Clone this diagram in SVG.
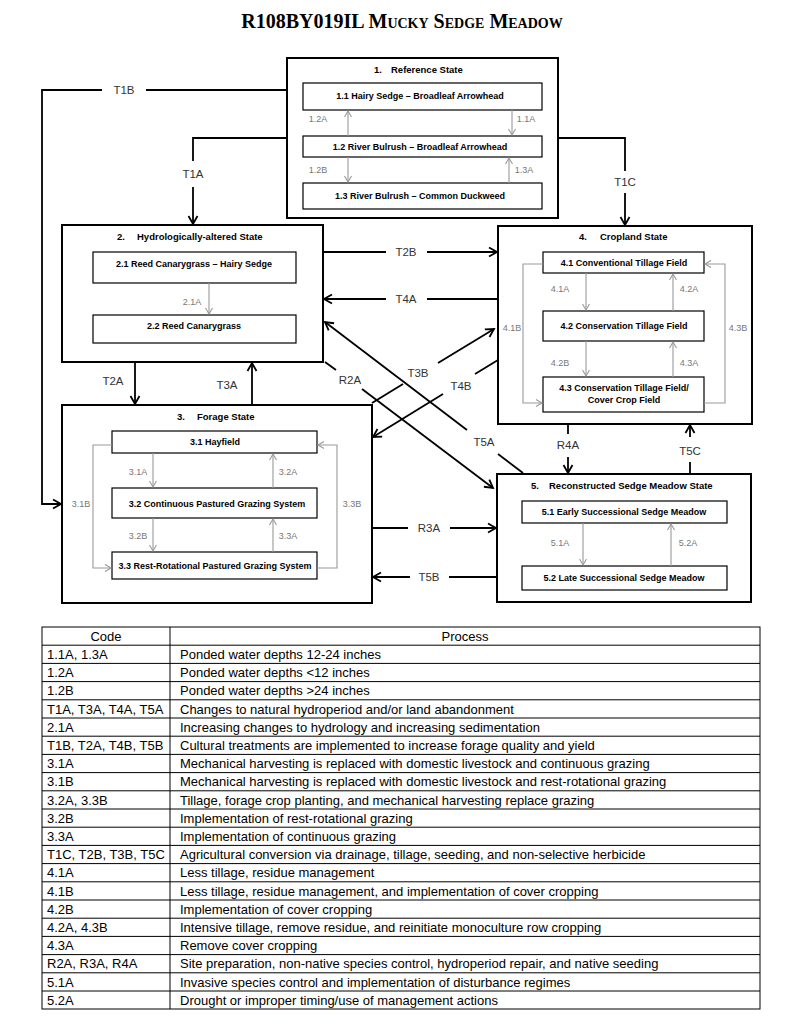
<svg xmlns="http://www.w3.org/2000/svg" width="800" height="1028" viewBox="0 0 800 1028">
<style>
.title{font-family:"Liberation Serif",serif;font-weight:bold;font-size:20px;font-variant:small-caps;fill:#000}
.st{fill:#fff;stroke:#000;stroke-width:2}
.ph{fill:#fff;stroke:#000;stroke-width:1.2}
.sl{font-family:"Liberation Sans",Arial,sans-serif;font-weight:bold;font-size:9.5px;fill:#000}
.pl{font-family:"Liberation Sans",Arial,sans-serif;font-weight:bold;font-size:9px;fill:#000;text-anchor:middle}
.tr{fill:none;stroke:#000;stroke-width:1.8}
.ta{fill:none;stroke:#000;stroke-width:1.8;marker-end:url(#ah)}
.gr{fill:none;stroke:#999;stroke-width:1.1;marker-end:url(#ahg)}
.tl{font-family:"Liberation Sans",Arial,sans-serif;font-size:11.5px;fill:#333;text-anchor:middle}
.gl{font-family:"Liberation Sans",Arial,sans-serif;font-size:9px;fill:#777;text-anchor:middle}
.tb{fill:none;stroke:#000;stroke-width:1}
.tt{font-family:"Liberation Sans",Arial,sans-serif;font-size:13px;fill:#000}
.th{font-family:"Liberation Sans",Arial,sans-serif;font-size:13px;fill:#000;text-anchor:middle}
</style>
<defs>
<marker id="ah" markerUnits="userSpaceOnUse" markerWidth="12" markerHeight="12" refX="9" refY="5" orient="auto" viewBox="0 0 12 10">
<path d="M1,0.5 L9,5 L1,9.5" fill="none" stroke="#000" stroke-width="1.8"/>
</marker>
<marker id="ahg" markerUnits="userSpaceOnUse" markerWidth="10" markerHeight="10" refX="7" refY="4" orient="auto" viewBox="0 0 10 8">
<path d="M1,0.5 L7,4 L1,7.5" fill="none" stroke="#999" stroke-width="1.1"/>
</marker>
</defs>
<rect width="800" height="1028" fill="#fff"/>
<text class="title" x="402" y="28" text-anchor="middle">R108BY019IL Mucky Sedge Meadow</text>

<g id="state1">
<rect class="st" x="287" y="58" width="271" height="160"/>
<text class="sl" y="73"><tspan x="374">1.</tspan><tspan x="391">Reference State</tspan></text>
</g>
<g id="p11"><rect class="ph" x="303" y="83" width="239" height="27"/><text class="pl" x="420" y="99">1.1  Hairy Sedge – Broadleaf Arrowhead</text></g>
<g id="p12"><rect class="ph" x="303" y="136" width="239" height="21"/><text class="pl" x="420" y="150">1.2 River Bulrush – Broadleaf Arrowhead</text></g>
<g id="p13"><rect class="ph" x="303" y="183" width="239" height="26"/><text class="pl" x="420" y="199">1.3  River Bulrush – Common Duckweed</text></g>

<g id="state2">
<rect class="st" x="62" y="225" width="261" height="137"/>
<text class="sl" y="240"><tspan x="117">2.</tspan><tspan x="137">Hydrologically-altered State</tspan></text>
</g>
<g id="p21"><rect class="ph" x="93" y="252" width="203" height="31"/><text class="pl" x="194" y="267">2.1  Reed Canarygrass – Hairy Sedge</text></g>
<g id="p22"><rect class="ph" x="93" y="315" width="203" height="28"/><text class="pl" x="194" y="329">2.2  Reed Canarygrass</text></g>

<g id="state3">
<rect class="st" x="62" y="405" width="310" height="198"/>
<text class="sl" y="420"><tspan x="177">3.</tspan><tspan x="197">Forage State</tspan></text>
</g>
<g id="p31"><rect class="ph" x="112" y="431" width="205" height="22"/><text class="pl" x="215" y="445">3.1 Hayfield</text></g>
<g id="p32"><rect class="ph" x="112" y="488" width="205" height="30"/><text class="pl" x="217" y="507">3.2 Continuous Pastured Grazing System</text></g>
<g id="p33"><rect class="ph" x="112" y="552" width="205" height="27"/><text class="pl" x="215" y="569">3.3 Rest-Rotational Pastured Grazing System</text></g>

<g id="state4">
<rect class="st" x="498" y="226" width="254" height="198"/>
<text class="sl" y="240"><tspan x="579">4.</tspan><tspan x="600">Cropland State</tspan></text>
</g>
<g id="p41"><rect class="ph" x="543" y="252" width="161" height="21"/><text class="pl" x="624" y="266">4.1 Conventional Tillage Field</text></g>
<g id="p42"><rect class="ph" x="543" y="311" width="161" height="30"/><text class="pl" x="624" y="329">4.2 Conservation Tillage Field</text></g>
<g id="p43"><rect class="ph" x="543" y="377" width="161" height="35"/><text class="pl" x="624" y="391">4.3 Conservation Tillage Field/</text><text class="pl" x="624" y="403">Cover Crop Field</text></g>

<g id="state5">
<rect class="st" x="497" y="474" width="254" height="128"/>
<text class="sl" y="489"><tspan x="531">5.</tspan><tspan x="549">Reconstructed Sedge Meadow State</tspan></text>
</g>
<g id="p51"><rect class="ph" x="522" y="501" width="205" height="22"/><text class="pl" x="624" y="515">5.1 Early Successional Sedge Meadow</text></g>
<g id="p52"><rect class="ph" x="522" y="566" width="205" height="24"/><text class="pl" x="624" y="581">5.2 Late Successional Sedge Meadow</text></g>

<g id="connectors">
<path class="tr" d="M287,90 H146"/>
<path class="ta" d="M102,90 H42 V504 H61"/>
<text class="tl" x="124" y="94">T1B</text>
<path class="tr" d="M287,138 H193 V161"/>
<path class="ta" d="M193,187 V224"/>
<text class="tl" x="193" y="178">T1A</text>
<path class="tr" d="M558,138 H625 V171"/>
<path class="ta" d="M625,193 V225"/>
<text class="tl" x="625" y="186">T1C</text>
<path class="tr" d="M323,252 H386"/>
<path class="ta" d="M427,252 H497"/>
<text class="tl" x="406" y="256">T2B</text>
<path class="tr" d="M498,299 H427"/>
<path class="ta" d="M386,299 H324"/>
<text class="tl" x="406" y="303">T4A</text>
<path class="ta" d="M135,362 V404"/>
<text class="tl" x="113" y="385">T2A</text>
<path class="ta" d="M252,405 V363"/>
<text class="tl" x="227" y="389">T3A</text>
<path class="tr" d="M325,362 L336,370"/>
<path class="ta" d="M362,389 L493,488"/>
<text class="tl" x="350" y="384">R2A</text>
<path class="tr" d="M523,473 L498,454"/>
<path class="ta" d="M467,430 L325,322"/>
<text class="tl" x="484" y="446">T5A</text>
<path class="tr" d="M372,403 L403,384"/>
<path class="ta" d="M438,363 L494,329"/>
<text class="tl" x="418" y="377">T3B</text>
<path class="tr" d="M498,360 L475,374"/>
<path class="ta" d="M443,394 L373,437"/>
<text class="tl" x="461" y="390">T4B</text>
<path class="tr" d="M372,528 H408"/>
<path class="ta" d="M450,528 H496"/>
<text class="tl" x="429" y="532">R3A</text>
<path class="tr" d="M497,577 H449"/>
<path class="ta" d="M410,577 H373"/>
<text class="tl" x="429" y="581">T5B</text>
<path class="tr" d="M568,424 V434"/>
<path class="ta" d="M568,457 V473"/>
<text class="tl" x="568" y="449">R4A</text>
<path class="tr" d="M690,474 V462"/>
<path class="ta" d="M690,437 V425"/>
<text class="tl" x="690" y="455">T5C</text>

<path class="gr" d="M348,136 V111"/><text class="gl" x="318" y="122">1.2A</text>
<path class="gr" d="M512,110 V135"/><text class="gl" x="526" y="122">1.1A</text>
<path class="gr" d="M348,157 V182"/><text class="gl" x="318" y="173">1.2B</text>
<path class="gr" d="M509,183 V158"/><text class="gl" x="524" y="173">1.3A</text>
<path class="gr" d="M209,283 V314"/><text class="gl" x="192" y="305">2.1A</text>
<path class="gr" d="M153,453 V487"/><text class="gl" x="138" y="475">3.1A</text>
<path class="gr" d="M273,488 V454"/><text class="gl" x="288" y="475">3.2A</text>
<path class="gr" d="M153,518 V551"/><text class="gl" x="138" y="539">3.2B</text>
<path class="gr" d="M273,552 V519"/><text class="gl" x="288" y="539">3.3A</text>
<path class="gr" d="M112,445 H93 V568 H111"/><text class="gl" x="81" y="507">3.1B</text>
<path class="gr" d="M317,568 H337 V445 H318"/><text class="gl" x="352" y="507">3.3B</text>
<path class="gr" d="M586,273 V310"/><text class="gl" x="560" y="292">4.1A</text>
<path class="gr" d="M673,311 V274"/><text class="gl" x="689" y="292">4.2A</text>
<path class="gr" d="M586,341 V376"/><text class="gl" x="560" y="366">4.2B</text>
<path class="gr" d="M673,377 V342"/><text class="gl" x="689" y="366">4.3A</text>
<path class="gr" d="M543,264 H523 V403 H542"/><text class="gl" x="512" y="331">4.1B</text>
<path class="gr" d="M704,403 H725 V264 H705"/><text class="gl" x="738" y="331">4.3B</text>
<path class="gr" d="M583,523 V565"/><text class="gl" x="560" y="546">5.1A</text>
<path class="gr" d="M671,566 V524"/><text class="gl" x="688" y="546">5.2A</text>
</g>

<g id="table">
<rect class="tb" x="42" y="627" width="718" height="382"/>
<path class="tb" d="M170,627 V1009 M42,645.2 H760 M42,663.4 H760 M42,681.6 H760 M42,699.8 H760 M42,718 H760 M42,736.2 H760 M42,754.4 H760 M42,772.6 H760 M42,790.8 H760 M42,809 H760 M42,827.2 H760 M42,845.4 H760 M42,863.6 H760 M42,881.8 H760 M42,900 H760 M42,918.2 H760 M42,936.4 H760 M42,954.6 H760 M42,972.8 H760 M42,991 H760"/>
<text class="th" x="106" y="641">Code</text>
<text class="th" x="465" y="641">Process</text>
<text class="tt" x="47" y="659">1.1A, 1.3A</text><text class="tt" x="180" y="659">Ponded water depths 12-24 inches</text>
<text class="tt" x="47" y="677.2">1.2A</text><text class="tt" x="180" y="677.2">Ponded water depths &lt;12 inches</text>
<text class="tt" x="47" y="695.4">1.2B</text><text class="tt" x="180" y="695.4">Ponded water depths &gt;24 inches</text>
<text class="tt" x="47" y="713.6">T1A, T3A, T4A, T5A</text><text class="tt" x="180" y="713.6">Changes to natural hydroperiod and/or land abandonment</text>
<text class="tt" x="47" y="731.8">2.1A</text><text class="tt" x="180" y="731.8">Increasing changes to hydrology and increasing sedimentation</text>
<text class="tt" x="47" y="750">T1B, T2A, T4B, T5B</text><text class="tt" x="180" y="750">Cultural treatments are implemented to increase forage quality and yield</text>
<text class="tt" x="47" y="768.2">3.1A</text><text class="tt" x="180" y="768.2">Mechanical harvesting is replaced with domestic livestock and continuous grazing</text>
<text class="tt" x="47" y="786.4">3.1B</text><text class="tt" x="180" y="786.4">Mechanical harvesting is replaced with domestic livestock and rest-rotational grazing</text>
<text class="tt" x="47" y="804.6">3.2A, 3.3B</text><text class="tt" x="180" y="804.6">Tillage, forage crop planting, and mechanical harvesting replace grazing</text>
<text class="tt" x="47" y="822.8">3.2B</text><text class="tt" x="180" y="822.8">Implementation of rest-rotational grazing</text>
<text class="tt" x="47" y="841">3.3A</text><text class="tt" x="180" y="841">Implementation of continuous grazing</text>
<text class="tt" x="47" y="859.2">T1C, T2B, T3B, T5C</text><text class="tt" x="180" y="859.2">Agricultural conversion via drainage, tillage, seeding, and non-selective herbicide</text>
<text class="tt" x="47" y="877.4">4.1A</text><text class="tt" x="180" y="877.4">Less tillage, residue management</text>
<text class="tt" x="47" y="895.6">4.1B</text><text class="tt" x="180" y="895.6">Less tillage, residue management, and implementation of cover cropping</text>
<text class="tt" x="47" y="913.8">4.2B</text><text class="tt" x="180" y="913.8">Implementation of cover cropping</text>
<text class="tt" x="47" y="932">4.2A, 4.3B</text><text class="tt" x="180" y="932">Intensive tillage, remove residue, and reinitiate monoculture row cropping</text>
<text class="tt" x="47" y="950.2">4.3A</text><text class="tt" x="180" y="950.2">Remove cover cropping</text>
<text class="tt" x="47" y="968.4">R2A, R3A, R4A</text><text class="tt" x="180" y="968.4">Site preparation, non-native species control, hydroperiod repair, and native seeding</text>
<text class="tt" x="47" y="986.6">5.1A</text><text class="tt" x="180" y="986.6">Invasive species control and implementation of disturbance regimes</text>
<text class="tt" x="47" y="1004.8">5.2A</text><text class="tt" x="180" y="1004.8">Drought or improper timing/use of management actions</text>
</g>
</svg>
